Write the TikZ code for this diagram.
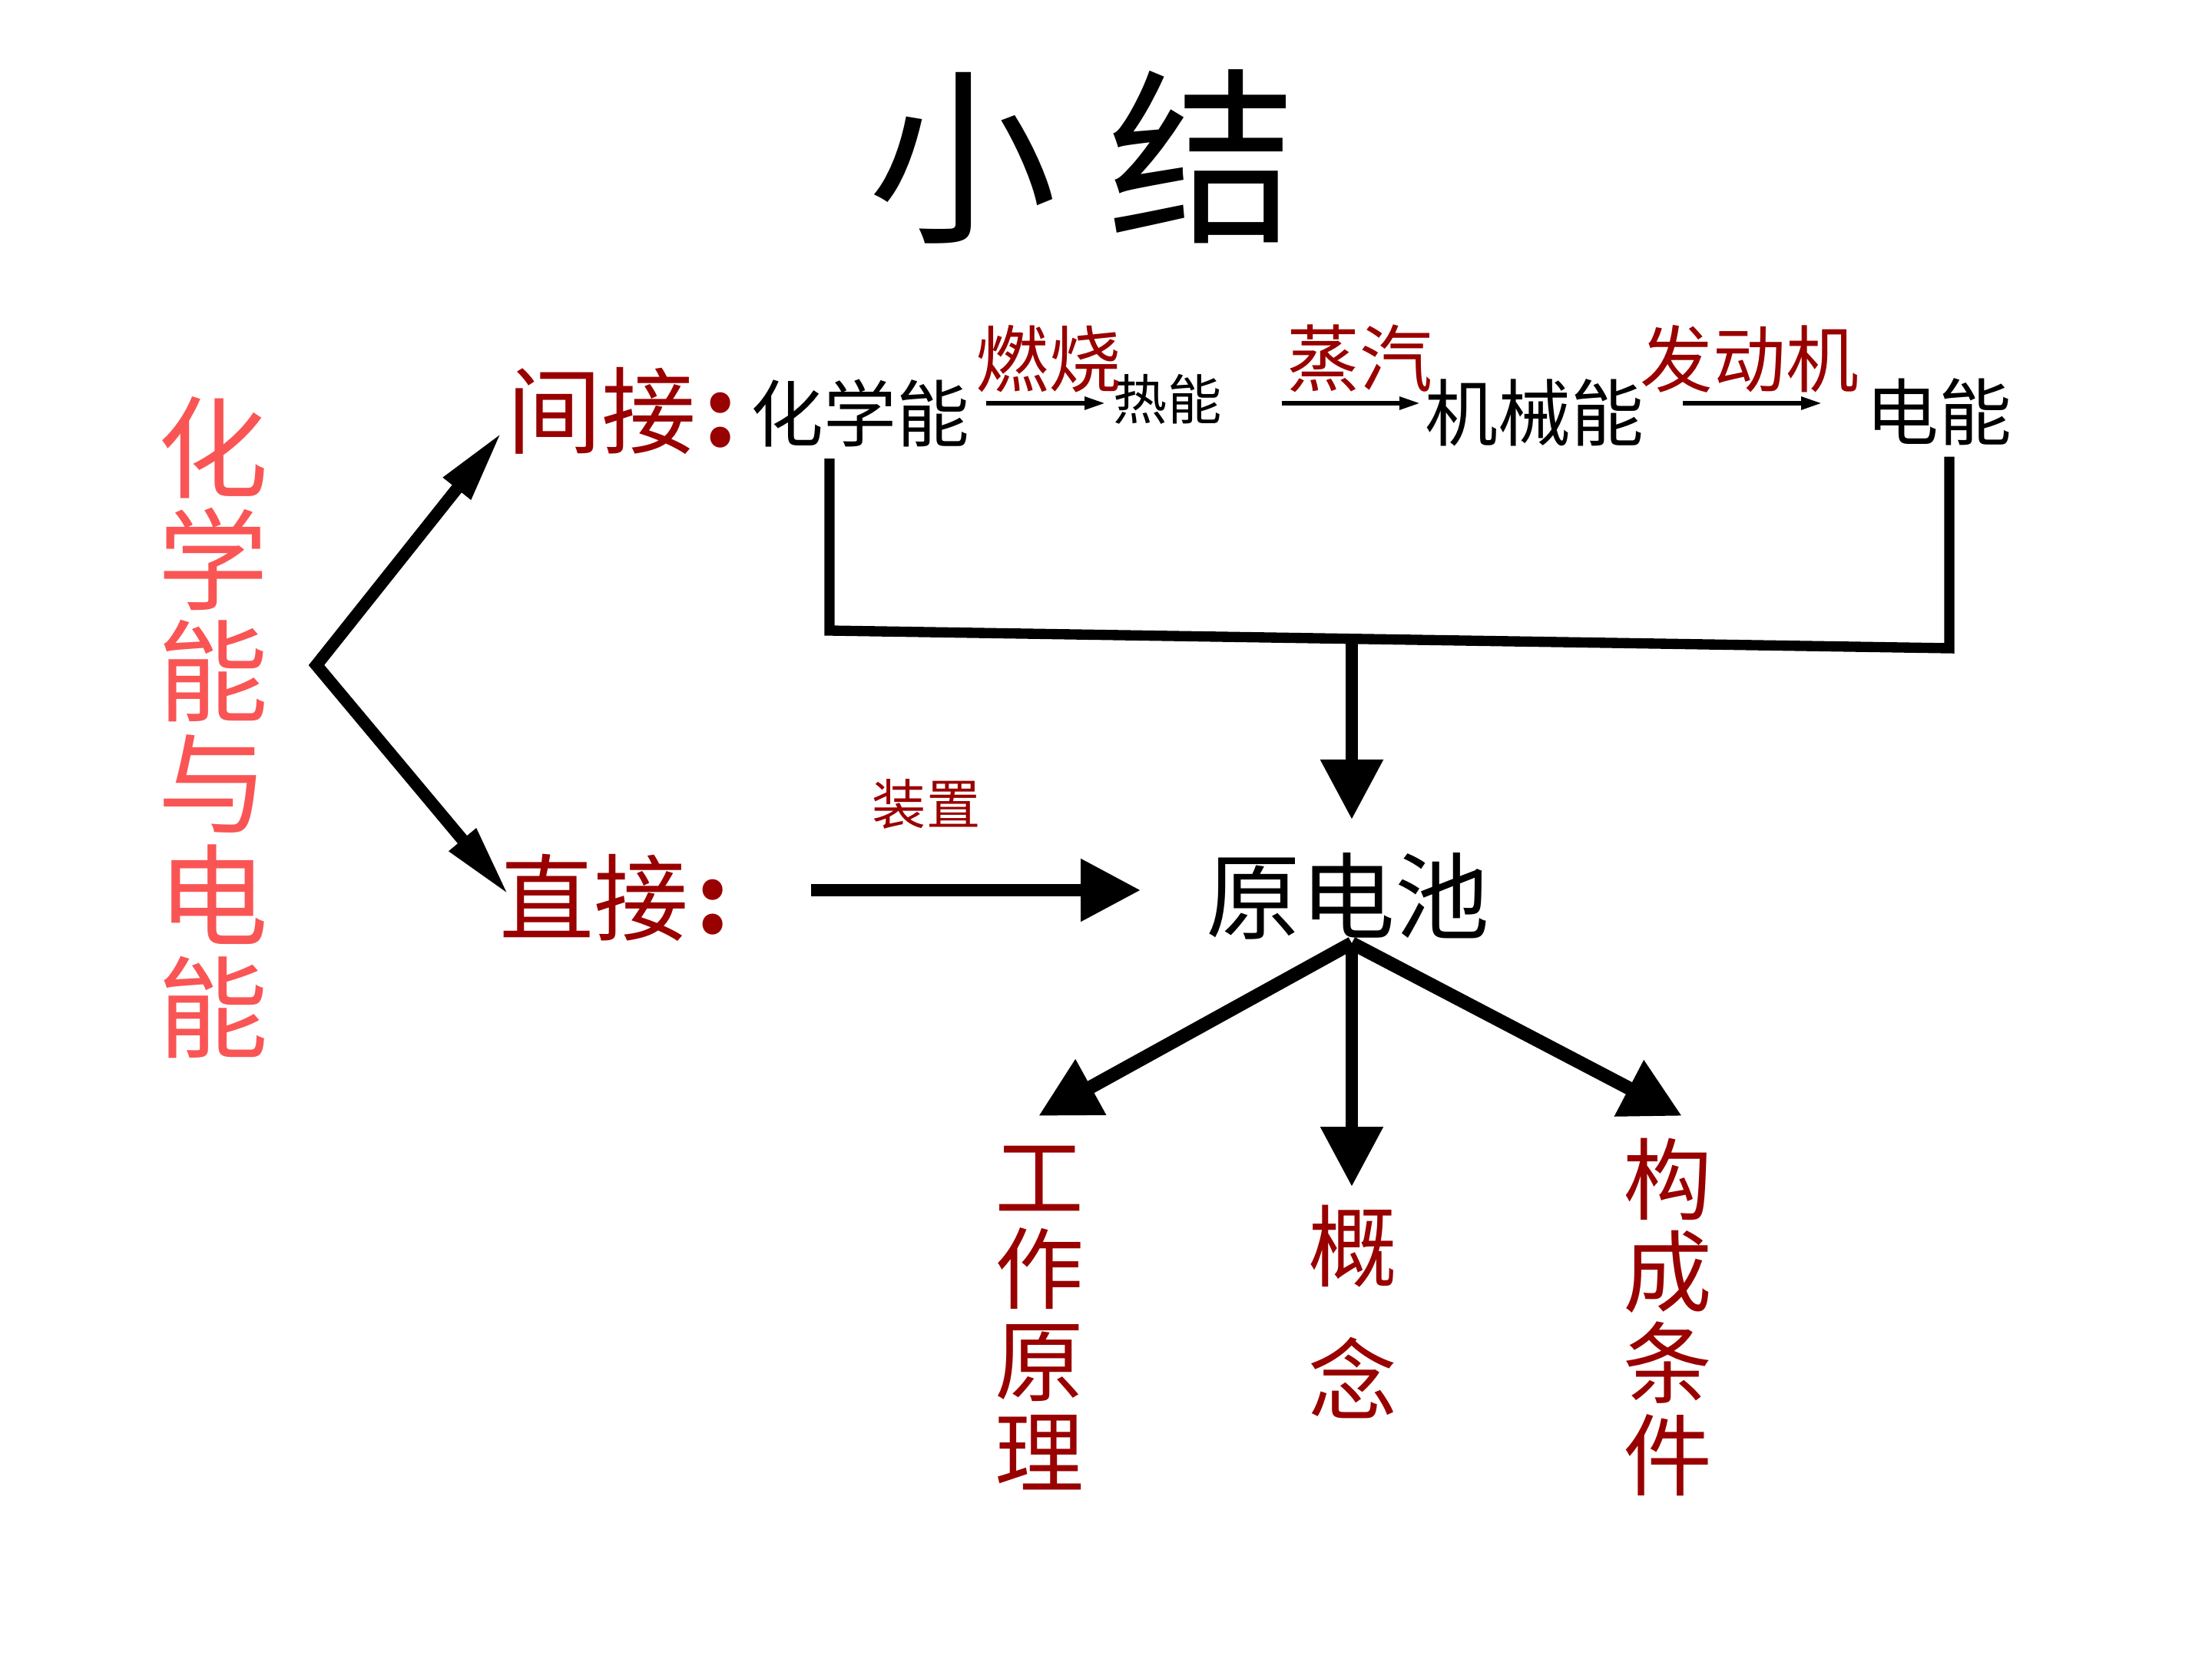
\documentclass[tikz,border=0pt]{standalone}
\usepackage{fontspec}
\setmainfont{Noto Sans CJK SC}
\usepackage{xcolor}
\usetikzlibrary{arrows.meta}
\definecolor{darkred}{RGB}{153,0,0}
\definecolor{lightred}{RGB}{250,85,85}
\newcommand\headsize{7.8mm}

\begin{document}
\begin{tikzpicture}[x=1cm, y=-1cm,
        txt/.style={inner sep=0pt, outer sep=0pt},
        big/.style={txt, font=\fontsize{35}{36}\selectfont},
        mid/.style={txt, font=\fontsize{27}{28}\selectfont},
        small/.style={txt, font=\fontsize{20}{21}\selectfont},
        column/.style={txt, darkred, align=center, font=\fontsize{33}{34}\selectfont},
        thinarrow/.style={line width=1.6pt, -{Triangle[length=2.7mm, width=1.6mm]}},
        thickarrow/.style={line width=4.4pt, -{Triangle[length=\headsize, width=\headsize]}},
        bracket/.style={line width=3.8pt, line join=miter}]
        \useasboundingbox (0,0) rectangle (28.8,21.6);
        \node[txt, font=\fontsize{70}{72}\selectfont] (title) at (14.10,2.04) {小\hspace{6.6mm}结};
        \node[txt, lightred, align=center, font=\fontsize{41}{41.5}\selectfont] (topic) at (2.78,9.47) {化\\学\\能\\与\\电\\能};
        \node[big, darkred, anchor=west] (indirect) at (6.60,5.35)  {间接\hspace{1mm}\textbf{:}};
        \node[big, darkred, anchor=west] (direct)   at (6.50,11.69) {直接\hspace{1mm}\textbf{:}};
        % indirect chain
        \node[mid]          (chem)   at (11.20,5.38) {化学能};
        \node[small]        (heat)   at (15.20,5.20) {热能};
        \node[mid]          (mech)   at (19.98,5.37) {机械能};
        \node[mid]          (elec)   at (25.24,5.36) {电能};
        \node[mid, darkred] (burn)   at (13.65,4.67) {燃烧};
        \node[mid, darkred] (steam)  at (17.70,4.67) {蒸汽};
        \node[mid, darkred] (engine) at (22.78,4.67) {发动机};
        \coordinate (a1) at (12.84,5.25); \coordinate (b1) at (14.39,5.25);
        \coordinate (a2) at (16.69,5.25); \coordinate (b2) at (18.49,5.25);
        \coordinate (a3) at (21.91,5.25); \coordinate (b3) at (23.72,5.25);
        \draw[thinarrow] (a1) -- (b1);
        \draw[thinarrow] (a2) -- (b2);
        \draw[thinarrow] (a3) -- (b3);
        % bracket under the chain
        \coordinate (bl) at (10.80,8.21);
        \coordinate (br) at (25.38,8.44);
        \draw[bracket] ([yshift=-1.5mm]bl |- chem.south) -- (bl) -- (br) -- ([yshift=-1.5mm]br |- elec.south);
        % cell
        \node[big] (cell) at (17.55,11.67) {原电池};
        \node[small, darkred] (device) at (12.06,10.47) {装置};
        \coordinate (join)    at (17.60,8.32);
        \coordinate (celltop) at (17.60,10.67);
        \draw[thickarrow] (join) -- (celltop);
        \coordinate (dtail) at (10.56,11.59);
        \coordinate (dhead) at (14.85,11.59);
        \draw[thickarrow] (dtail) -- (dhead);
        % fork
        \coordinate (fork)     at (4.12,8.66);
        \coordinate (forkup)   at (6.54,5.62);
        \coordinate (forkdown) at (6.63,11.66);
        \draw[line width=4.5pt, line join=miter, {Triangle[length=9.5mm, width=4.2mm]}-{Triangle[length=9.5mm, width=4.2mm]}] (forkup) -- (fork) -- (forkdown);
        % branches
        \coordinate (cellfoot) at (17.60,12.28);
        \coordinate (tipl) at (13.52,14.53);
        \coordinate (tipm) at (17.60,15.45);
        \coordinate (tipr) at (21.90,14.53);
        \draw[thickarrow, line width=5pt] (cellfoot) -- (tipl);
        \draw[thickarrow]                 (cellfoot) -- (tipm);
        \draw[thickarrow, line width=5pt] (cellfoot) -- (tipr);
        \node[column] (principle) at (13.53,17.16) {工\\作\\原\\理};
        \node[column, font=\fontsize{33}{49.5}\selectfont] (concept) at (17.61,17.08) {概\\念};
        \node[column] (condition) at (21.71,17.15) {构\\成\\条\\件};
    \end{tikzpicture}
\end{document}
